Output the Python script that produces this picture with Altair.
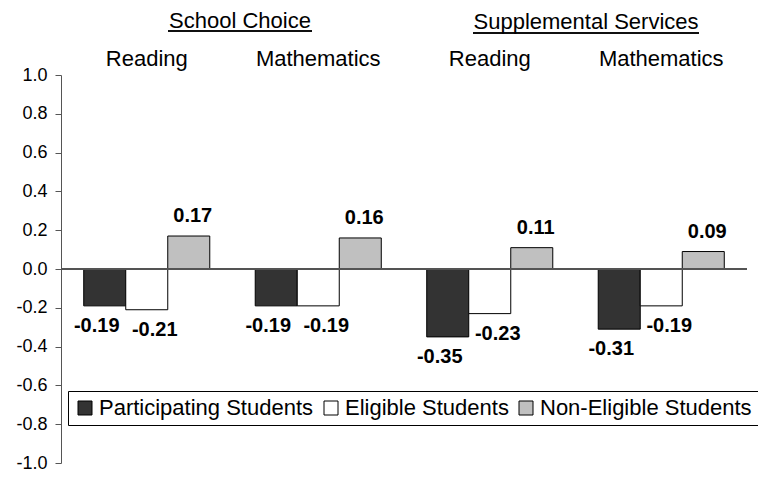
import altair as alt
import pandas as pd

# ---- data ----
programs = ["School Choice", "School Choice", "Supplemental Services", "Supplemental Services"]
subjects = ["Reading", "Mathematics", "Reading", "Mathematics"]
series = ["Participating Students", "Eligible Students", "Non-Eligible Students"]
participating = [-0.19, -0.19, -0.35, -0.31]
eligible = [-0.21, -0.19, -0.23, -0.19]
non_eligible = [0.17, 0.16, 0.11, 0.09]
y_ticks = [-1.0, -0.8, -0.6, -0.4, -0.2, 0.0, 0.2, 0.4, 0.6, 0.8, 1.0]
headers = ["School Choice", "Supplemental Services"]

keys = [f"{p}|{s}" for p, s in zip(programs, subjects)]
values_by_series = [participating, eligible, non_eligible]

rows = []
for sname, vals in zip(series, values_by_series):
    for k, p, s, v in zip(keys, programs, subjects, vals):
        rows.append({"key": k, "program": p, "subject": s, "series": sname, "value": v})
df = pd.DataFrame(rows)
groups_df = pd.DataFrame({"key": keys, "subject": subjects})

FONT = "Liberation Sans"
colors = ["#333333", "#ffffff", "#c0c0c0"]

x_enc = alt.X("key:N", sort=keys, axis=None,
              scale=alt.Scale(paddingInner=0.265, paddingOuter=0.1325))
xoff_enc = alt.XOffset("series:N", sort=series,
                       scale=alt.Scale(paddingInner=0, paddingOuter=0))
y_axis = alt.Axis(values=y_ticks, tickCount=11, grid=False, title=None,
                  labelExpr="(datum.value < -0.001 ? '-' : '') + format(abs(datum.value), '.1f')",
                  labelFont=FONT, labelFontSize=18, labelColor="black",
                  labelPadding=8, tickSize=6, tickColor="#555555",
                  domainColor="#555555", labelFlush=False,
                  labelOverlap=False, labelBound=False)
y_scale = alt.Scale(domain=[-1, 1], nice=False, zero=False)
y_enc = alt.Y("value:Q", scale=y_scale, axis=y_axis)

base = alt.Chart(df)

bars = base.mark_bar(stroke="black", strokeWidth=1).encode(
    x=x_enc,
    xOffset=xoff_enc,
    y=y_enc,
    color=alt.Color("series:N", sort=series,
                    scale=alt.Scale(domain=series, range=colors),
                    legend=alt.Legend(orient="none", legendX=7, legendY=316,
                                      direction="horizontal", columns=3, title=None,
                                      symbolType="square", symbolSize=196,
                                      symbolStrokeColor="black", symbolStrokeWidth=1,
                                      symbolOpacity=1, labelLimit=0,
                                      labelFont=FONT, labelFontSize=22, labelColor="black",
                                      labelOffset=3, columnPadding=6, padding=6,
                                      strokeColor="black", fillColor="white")),
)

zero = alt.Chart(df).mark_rule(color="#555555", strokeWidth=1).encode(
    y=alt.Y(datum=0, scale=y_scale, axis=y_axis))

label_dx = {"Participating Students": -8, "Eligible Students": 8, "Non-Eligible Students": 4}
label_layers = []
for sname in series:
    for sign, dy in (("pos", -20), ("neg", 20)):
        cond = "datum.value >= 0" if sign == "pos" else "datum.value < 0"
        lay = base.transform_filter(
            alt.datum.series == sname
        ).transform_filter(cond).transform_calculate(
            label="(datum.value < 0 ? '-' : '') + format(abs(datum.value), '.2f')"
        ).mark_text(font=FONT, fontSize=20, fontWeight="bold", color="black",
                    baseline="middle", dx=label_dx[sname], dy=dy).encode(
            x=x_enc, xOffset=xoff_enc, y=y_enc, text="label:N")
        label_layers.append(lay)

sub_labels = alt.Chart(groups_df).mark_text(
    font=FONT, fontSize=22, color="black", baseline="alphabetic").encode(
    x=alt.X("key:N", sort=keys, axis=None), y=alt.value(-9), text="subject:N")

hdr_df = pd.DataFrame({"header": headers})
hdr1 = alt.Chart(hdr_df).transform_filter(alt.datum.header == headers[0]).mark_text(
    font=FONT, fontSize=22, color="black", baseline="alphabetic").encode(
    x=alt.value(179), y=alt.value(-47), text="header:N")
hdr2 = alt.Chart(hdr_df).transform_filter(alt.datum.header == headers[1]).mark_text(
    font=FONT, fontSize=22, color="black", baseline="alphabetic").encode(
    x=alt.value(525), y=alt.value(-46), text="header:N")
ul1 = alt.Chart(hdr_df).mark_rule(color="black", strokeWidth=1.5).encode(
    x=alt.value(107), x2=alt.value(251), y=alt.value(-44))
ul2 = alt.Chart(hdr_df).mark_rule(color="black", strokeWidth=1.5).encode(
    x=alt.value(412), x2=alt.value(638), y=alt.value(-42))

chart = alt.layer(bars, zero, *label_layers, sub_labels, hdr1, hdr2, ul1, ul2).properties(
    width=686, height=388,
    autosize=alt.AutoSizeParams(type="none"),
    padding={"left": 53, "top": 67, "right": 11, "bottom": 9},
    background="white",
).configure_view(stroke=None)

chart.save("out.html", embed_options={"renderer": "svg", "actions": False})
